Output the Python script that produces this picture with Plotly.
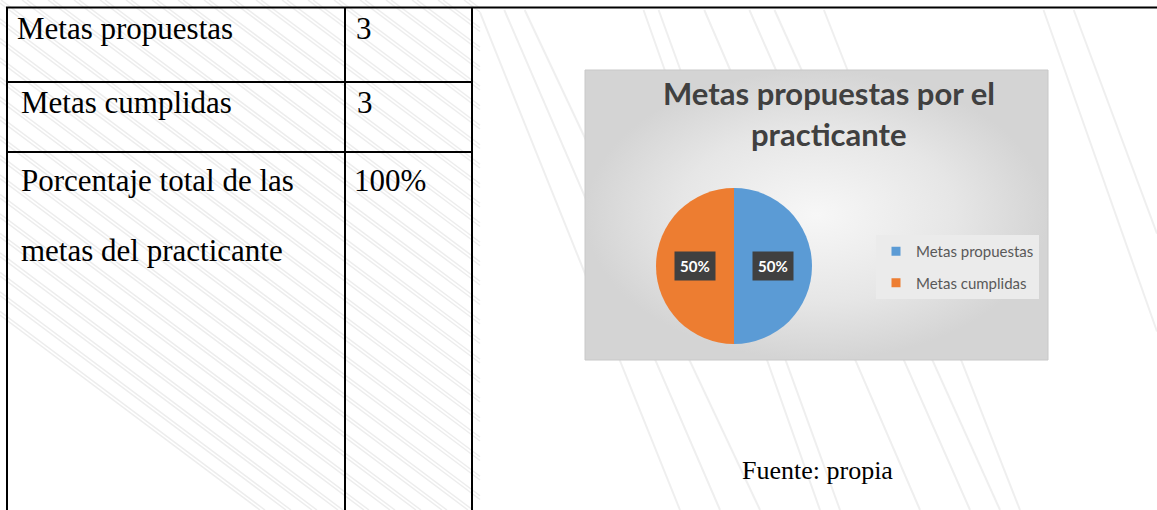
import math
import plotly.graph_objects as go

# ---------------- data ----------------
categories = ["Metas propuestas", "Metas cumplidas"]
values = [3, 3]
slice_colors = ["#5B9BD5", "#ED7D31"]
chart_title = ["Metas propuestas por el", "practicante"]
table_labels = ["Metas propuestas", "Metas cumplidas", "Porcentaje total de las", "metas del practicante"]
table_values = ["3", "3", "100%"]
source_note = "Fuente: propia"

W, H = 1157, 510
fig = go.Figure()

# ---------------- faint watermark hatching (decoration) ----------------
def clipped_line(x0, y0, x1, y1, xmin, xmax, ymin, ymax):
    dx, dy = x1 - x0, y1 - y0
    p = [-dx, dx, -dy, dy]
    q = [x0 - xmin, xmax - x0, y0 - ymin, ymax - y0]
    u1, u2 = 0.0, 1.0
    for pi, qi in zip(p, q):
        if pi == 0:
            if qi < 0:
                return None
        else:
            t = qi / pi
            if pi < 0:
                u1 = max(u1, t)
            else:
                u2 = min(u2, t)
    if u1 > u2:
        return None
    return (x0 + u1 * dx, y0 + u1 * dy, x0 + u2 * dx, y0 + u2 * dy)

shapes = []
hatch_color = "#ededed"
slope = 0.75
for k in range(60):
    base = -420 + k * 26
    for off in (0, 5):
        a = base + off
        seg = clipped_line(a, 0, a + H / slope, H, 0, 480, 0, H)
        if seg:
            shapes.append(dict(type="line", xref="x", yref="y", x0=seg[0], y0=seg[1],
                               x1=seg[2], y1=seg[3], line=dict(color=hatch_color, width=1.5),
                               layer="below"))
for a, b in [(475, 560), (500, 600), (520, 640), (640, 700), (655, 720), (700, 800), (745, 850),
             (770, 880), (820, 900), (1040, 1100), (1070, 1140)]:
    seg = clipped_line(a, 0, b + 120, H, 480, W, 10, H)
    if seg:
        shapes.append(dict(type="line", xref="x", yref="y", x0=seg[0], y0=seg[1],
                           x1=seg[2], y1=seg[3], line=dict(color="#efefef", width=2),
                           layer="below"))

# ---------------- table grid ----------------
lw = 2
tl, tt = 7, 7.5
col_div, right_b = 345, 472
row_lines = [82, 152]
shapes.append(dict(type="line", xref="x", yref="y", x0=tl - 1, y0=tt, x1=W, y1=tt, line=dict(color="black", width=lw)))
for xv in (tl, col_div, right_b):
    shapes.append(dict(type="line", xref="x", yref="y", x0=xv, y0=tt, x1=xv, y1=H, line=dict(color="black", width=lw)))
for yv in row_lines:
    shapes.append(dict(type="line", xref="x", yref="y", x0=tl, y0=yv, x1=right_b, y1=yv, line=dict(color="black", width=lw)))

serif = "Liberation Serif"
label_pos = [(15, 28), (19, 102), (19, 180), (19, 250)]
for txt, (x, y) in zip(table_labels, label_pos):
    fig.add_annotation(x=x, y=y, xref="x", yref="y", text=txt, showarrow=False,
                       xanchor="left", yanchor="middle", font=dict(family=serif, size=31, color="black"))
val_pos = [(354, 28), (355, 102), (352, 180)]
for txt, (x, y) in zip(table_values, val_pos):
    fig.add_annotation(x=x, y=y, xref="x", yref="y", text=txt, showarrow=False,
                       xanchor="left", yanchor="middle", font=dict(family=serif, size=31, color="black"))

fig.add_annotation(x=817, y=470, xref="x", yref="y", text=source_note, showarrow=False,
                   xanchor="center", yanchor="middle", font=dict(family=serif, size=26, color="black"))

# ---------------- chart panel (gradient background) ----------------
px0, py0, px1, py1 = 585, 70, 1048, 360
fig.add_trace(go.Scatter(x=[px0, px1, px1, px0, px0], y=[py0, py0, py1, py1, py0],
                         mode="lines", fill="toself", line=dict(width=1, color="#c8c8c8"),
                         fillgradient=dict(type="radial", colorscale=[[0, "#f7f7f7"], [0.6, "#e6e6e6"], [1, "#d4d4d4"]]),
                         hoverinfo="skip", showlegend=False))

# ---------------- pie ----------------
cx, cy, R = 734, 266, 78
fig.add_trace(go.Pie(labels=categories, values=values, sort=False, direction="clockwise", rotation=0,
                     marker=dict(colors=slice_colors, line=dict(width=0)), textinfo="none",
                     hoverinfo="label+percent", showlegend=False,
                     domain=dict(x=[(cx - R) / W, (cx + R) / W], y=[(H - cy - R) / H, (H - cy + R) / H])))

# data labels in dark boxes, placed at each slice's mid-angle
total = sum(values)
cum = 0.0
for v in values:
    frac = v / total
    mid = cum + frac / 2
    ang = math.radians(90 - 360 * mid)
    lx = cx + 0.5 * R * math.cos(ang)
    ly = cy - 0.5 * R * math.sin(ang)
    fig.add_annotation(x=lx, y=ly, xref="x", yref="y", text=f"<b>{round(frac * 100)}%</b>",
                       showarrow=False, bgcolor="#404040", borderpad=5,
                       font=dict(family="Lato", size=15, color="white"))
    cum += frac

# title
title_y = [93, 134]
for txt, y in zip(chart_title, title_y):
    fig.add_annotation(x=829, y=y, xref="x", yref="y", text=f"<b>{txt}</b>", showarrow=False,
                       xanchor="center", yanchor="middle", font=dict(family="Lato", size=31, color="#404040"))

# legend entries (one per category)
for i, (name, col) in enumerate(zip(categories, slice_colors)):
    fig.add_trace(go.Scatter(x=[None], y=[None], mode="markers", name=name, legendgroup=f"g{i}",
                             marker=dict(symbol="square", size=9, color=col), hoverinfo="skip"))

fig.update_layout(
    width=W, height=H,
    margin=dict(l=0, r=0, t=0, b=0),
    paper_bgcolor="white", plot_bgcolor="white",
    xaxis=dict(range=[0, W], visible=False, fixedrange=True),
    yaxis=dict(range=[H, 0], visible=False, fixedrange=True),
    shapes=shapes,
    showlegend=True,
    legend=dict(x=876 / W, y=1 - 235 / H, xanchor="left", yanchor="top", bgcolor="#ebebeb",
                font=dict(family="Lato", size=15, color="#595959"), traceorder="grouped",
                tracegroupgap=9, itemwidth=30),
)

fig.write_html("out.html")
